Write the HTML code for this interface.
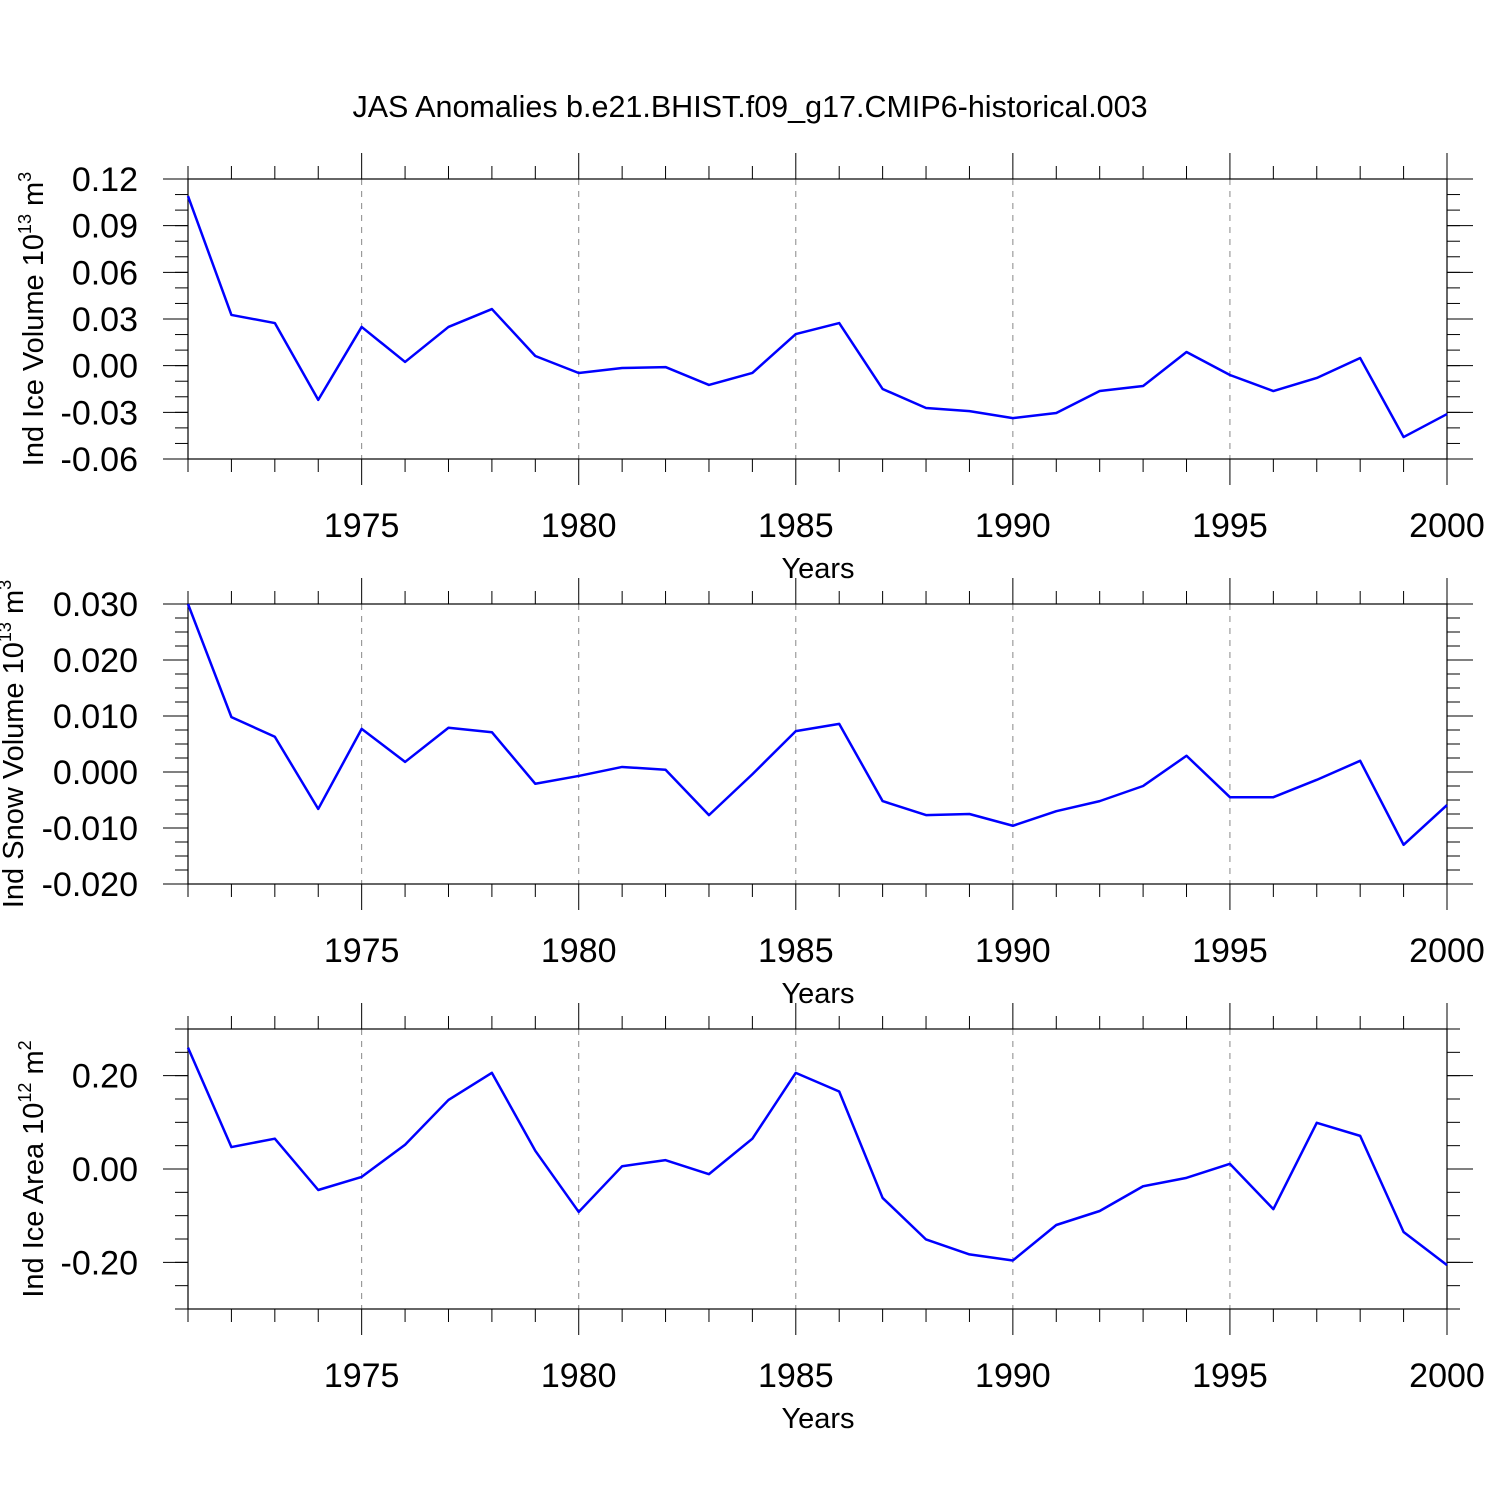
<!DOCTYPE html>
<html><head><meta charset="utf-8"><style>
body{margin:0;background:#fff}
svg text{font-family:"Liberation Sans",sans-serif;fill:#000}
</style></head><body>
<svg id="chart" width="1500" height="1500" viewBox="0 0 1500 1500">
<rect width="1500" height="1500" fill="#fff"/>
<text x="750" y="117" font-size="30.5" text-anchor="middle">JAS Anomalies b.e21.BHIST.f09_g17.CMIP6-historical.003</text>
</svg>
<script>
const years = [1971,1972,1973,1974,1975,1976,1977,1978,1979,1980,1981,1982,1983,1984,1985,1986,1987,1988,1989,1990,1991,1992,1993,1994,1995,1996,1997,1998,1999,2000];
const xTicks = [1975,1980,1985,1990,1995,2000];
const iceVolume = [0.109,0.0326,0.0274,-0.022,0.0249,0.0024,0.0249,0.0364,0.0062,-0.0047,-0.0015,-0.0009,-0.0124,-0.0047,0.0203,0.0274,-0.015,-0.0272,-0.0292,-0.0337,-0.0304,-0.0163,-0.0131,0.0088,-0.006,-0.0163,-0.0079,0.0049,-0.0459,-0.0311];
const snowVolume = [0.030,0.0098,0.0063,-0.0066,0.0077,0.0018,0.0079,0.0071,-0.0021,-0.0007,0.0009,0.0004,-0.0077,-0.0004,0.0073,0.0086,-0.0052,-0.0077,-0.0075,-0.0096,-0.0070,-0.0052,-0.0025,0.0029,-0.0045,-0.0045,-0.0014,0.0020,-0.0130,-0.0059];
const iceArea = [0.26,0.047,0.065,-0.045,-0.017,0.052,0.148,0.206,0.039,-0.092,0.006,0.019,-0.011,0.065,0.206,0.166,-0.062,-0.151,-0.183,-0.196,-0.120,-0.090,-0.037,-0.019,0.011,-0.086,0.099,0.071,-0.135,-0.206];
const iceVolTicks = [0.12,0.09,0.06,0.03,0,-0.03,-0.06];
const snowTicks = [0.03,0.02,0.01,0,-0.01,-0.02];
const areaTicks = [0.2,0,-0.2];

const svg=document.getElementById('chart');
const NS='http://www.w3.org/2000/svg';
function mk(tag,attrs,parent){const e=document.createElementNS(NS,tag);for(const k in attrs)e.setAttribute(k,attrs[k]);(parent||svg).appendChild(e);return e;}
const X0=188,X1=1447;
function xs(yr){return X0+(yr-1971)/(2000-1971)*(X1-X0);}

function panel(name,top,ymin,ymax,majors,minorStep,decimals,data,title,sup,unit,unitSup,titleX){
  const bot=top+280;
  const g=mk('g',{});
  
  
  const ys=v=>bot-(v-ymin)/(ymax-ymin)*280;
  xTicks.forEach(t=>{if(t<2000){const l=mk('line',{x1:xs(t),x2:xs(t),y1:top,y2:bot,stroke:'#888','stroke-width':1,'stroke-dasharray':'6,6'},g);
    }});
  for(let yr=1971;yr<=2000;yr++){const maj=(yr%5===0);const len=maj?26:13;const x=xs(yr);
    mk('line',{x1:x,x2:x,y1:top,y2:top-len,stroke:'#000','stroke-width':1},g);
    mk('line',{x1:x,x2:x,y1:bot,y2:bot+len,stroke:'#000','stroke-width':1},g);}
  const n=Math.round((ymax-ymin)/minorStep);
  for(let i=0;i<=n;i++){const v=ymin+i*minorStep;const y=ys(v);
    mk('line',{x1:X0,x2:X0-13,y1:y,y2:y,stroke:'#000','stroke-width':1},g);
    mk('line',{x1:X1,x2:X1+13,y1:y,y2:y,stroke:'#000','stroke-width':1},g);}
  majors.forEach(v=>{const y=ys(v);
    mk('line',{x1:X0,x2:X0-25,y1:y,y2:y,stroke:'#000','stroke-width':1},g);
    mk('line',{x1:X1,x2:X1+26,y1:y,y2:y,stroke:'#000','stroke-width':1},g);
    const t=mk('text',{x:138,y:y+12,'font-size':34,'text-anchor':'end'},g);
    
    t.textContent=v.toFixed(decimals);});
  mk('rect',{x:X0,y:top,width:X1-X0,height:280,fill:'none',stroke:'#000','stroke-width':1.2},g);
  xTicks.forEach(t=>{const e=mk('text',{x:xs(t),y:bot+78,'font-size':34,'text-anchor':'middle'},g);
    e.textContent=t;});
  const xt=mk('text',{x:818,y:bot+119,'font-size':29,'text-anchor':'middle'},g);
  xt.textContent='Years';
  const yt=mk('text',{transform:`translate(${titleX},${top+140}) rotate(-90)`,'font-size':29,'text-anchor':'middle'},g);
  
  yt.innerHTML=`${title} 10<tspan font-size="18" dy="-12">${sup}</tspan><tspan dy="12"> ${unit}</tspan><tspan font-size="18" dy="-12">${unitSup}</tspan>`;
  const pts=data.map((v,i)=>xs(years[i])+','+ys(v)).join(' ');
  const pl=mk('polyline',{points:pts,fill:'none',stroke:'#0000ff','stroke-width':2.5,'stroke-linejoin':'round'},g);
  
}
panel('ice-volume',179,-0.06,0.12,iceVolTicks,0.01,2,iceVolume,'Ind Ice Volume','13','m','3',43);
panel('snow-volume',604,-0.02,0.03,snowTicks,0.0025,3,snowVolume,'Ind Snow Volume','13','m','3',23);
panel('ice-area',1029,-0.3,0.3,areaTicks,0.05,2,iceArea,'Ind Ice Area','12','m','2',43);
</script>
</body></html>
